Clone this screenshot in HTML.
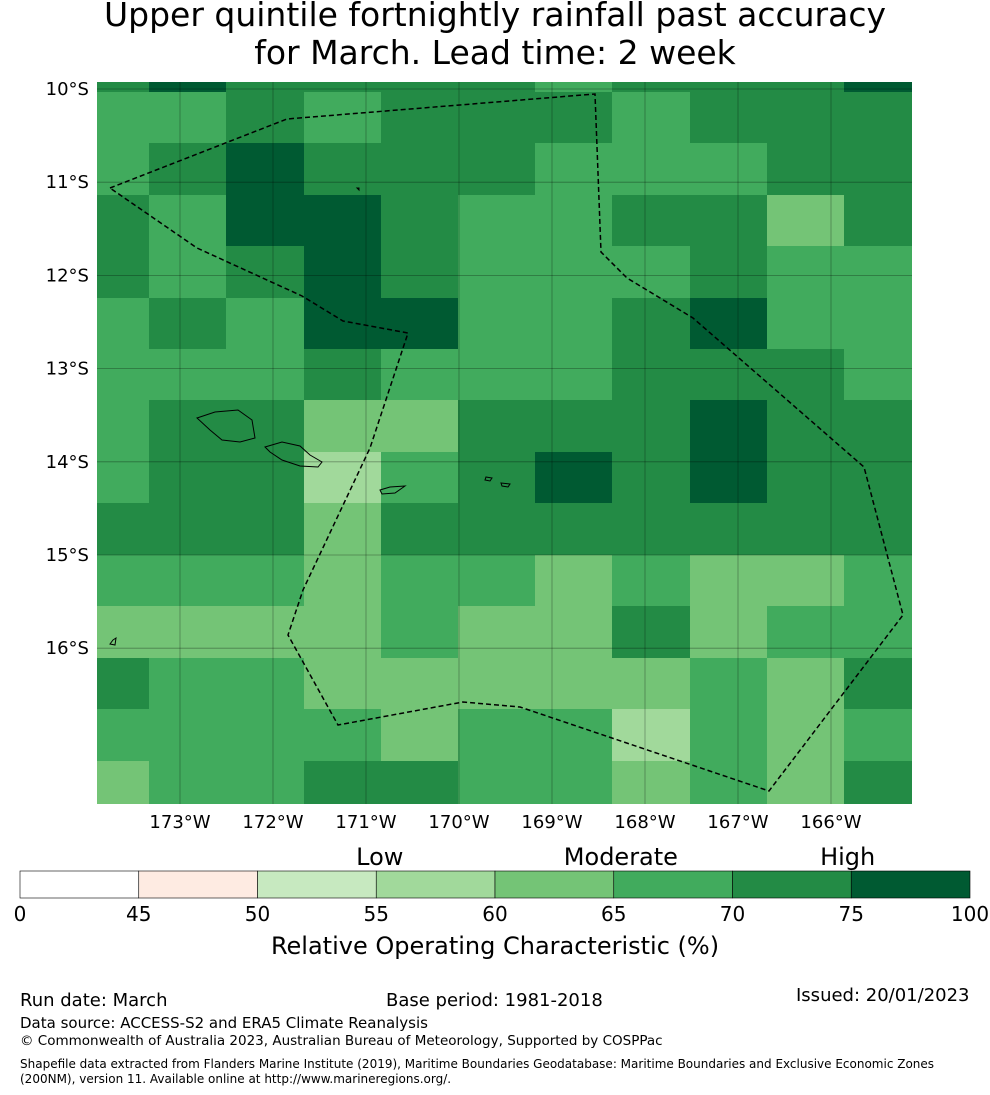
<!DOCTYPE html>
<html><head><meta charset="utf-8"><style>
body{margin:0;background:#fff;font-family:"DejaVu Sans","Liberation Sans",sans-serif;}
#wrap{position:relative;width:990px;height:1095px;overflow:hidden;}
.t{position:absolute;white-space:nowrap;color:#000;}
</style></head><body>
<div id="wrap">
<div class="t" style="left:0;width:990px;text-align:center;top:-4px;font-size:33px;line-height:38px;">Upper quintile fortnightly rainfall past accuracy<br>for March. Lead time: 2 week</div>
<svg id="map" width="990" height="1095" style="position:absolute;left:0;top:0"></svg>
<div class="t" style="left:20px;top:990px;font-size:18px;">Run date: March</div>
<div class="t" style="left:386px;top:990px;font-size:18px;">Base period: 1981-2018</div>
<div class="t" style="left:796px;top:985px;font-size:18px;">Issued: 20/01/2023</div>
<div class="t" style="left:20px;top:1014px;font-size:15px;">Data source: ACCESS-S2 and ERA5 Climate Reanalysis</div>
<div class="t" style="left:20px;top:1033px;font-size:13.5px;">© Commonwealth of Australia 2023, Australian Bureau of Meteorology, Supported by COSPPac</div>
<div class="t" style="left:20px;top:1057px;font-size:12px;line-height:15px;">Shapefile data extracted from Flanders Marine Institute (2019), Maritime Boundaries Geodatabase: Maritime Boundaries and Exclusive Economic Zones<br>(200NM), version 11. Available online at http://www.marineregions.org/.</div>
</div>
<script>
const colEdges=[97,149,226,304,381,458,535,612,690,767,844,912];
const rowEdges=[82,92,143,195,246,298,349,400,452,503,555,606,658,709,761,804];
const cellRows=[
"CDCCCCBCCCD",
"BBCBCCCBCCC",
"BCDCCCBBBCC",
"CBDDCBBCCAC",
"CBCDCBBBCBB",
"BCBDDBBCDBB",
"BBBCBBBCCCB",
"BCCAACCCDCC",
"BCCEBCDCDCC",
"CCCACCCCCCC",
"BBBABBABAAB",
"AAAABAACABB",
"CBBAAAAABAC",
"BBBBABBEBAB",
"ABBCCBBABAC"];
const levelColors={E:"#a1d99b",A:"#74c476",B:"#41ab5d",C:"#238b45",D:"#005a32"};
const lonTicks=[-173,-172,-171,-170,-169,-168,-167,-166];
const latTicks=[-10,-11,-12,-13,-14,-15,-16];
const cbEdges=[0,45,50,55,60,65,70,75,100];
const cbColors=["#ffffff","#feebe2","#c7e9c0","#a1d99b","#74c476","#41ab5d","#238b45","#005a32"];
const cbCats=["Low","Moderate","High"];
const cbCatPos=[3.03,5.06,6.97];
const NS="http://www.w3.org/2000/svg";
const FF='DejaVu Sans, Liberation Sans, sans-serif';
const svg=document.getElementById('map');
function mk(tag,attrs,parent){const e=document.createElementNS(NS,tag);for(const k in attrs)e.setAttribute(k,attrs[k]);(parent||svg).appendChild(e);return e;}
const xLon=lon=>180+(lon+173)*93;
const yLat=lat=>89+(-10-lat)*93.2;
for(let r=0;r<cellRows.length;r++){for(let c=0;c<cellRows[r].length;c++){
 const e=mk('rect',{x:colEdges[c],y:rowEdges[r],width:colEdges[c+1]-colEdges[c],height:rowEdges[r+1]-rowEdges[r],fill:levelColors[cellRows[r][c]]});
 
 
}}
lonTicks.forEach(l=>{const x=xLon(l);
 const g=mk('line',{x1:x,x2:x,y1:82,y2:804,stroke:'rgba(0,0,0,0.35)','stroke-width':0.8});
 
 const t=mk('text',{x:x,y:828,'font-size':18,'text-anchor':'middle','font-family':FF});t.textContent=(-l)+'°W';
 });
latTicks.forEach(l=>{const y=yLat(l);
 const g=mk('line',{x1:97,x2:912,y1:y,y2:y,stroke:'rgba(0,0,0,0.35)','stroke-width':0.8});
 
 const t=mk('text',{x:89,y:y+6,'font-size':18,'text-anchor':'end','font-family':FF});t.textContent=(-l)+'°S';
 });
const eez=mk('polyline',{points:"110,188 287,119 595,94 601,252 627,278 693,318 864,467 903,615 769,791 520,707 463,702 338,725 288,635 303,590 370,448 408,333 343,321 302,296 197,248 110,188",fill:'none',stroke:'#000','stroke-width':1.5,'stroke-dasharray':'5,3'});

["197,418 215,412 238,410 252,420 255,438 240,442 222,440 210,430","265,447 282,442 300,446 310,455 322,462 318,467 300,466 282,460 270,452","380,490 390,487 405,486 395,493 382,494","486,477 492,478 490,481 485,480","501,483 510,484 508,487 502,486","357,188 359,188 359,190","113,640 116,638 115,645 110,644"].forEach(p=>{
 const e=mk('polygon',{points:p,fill:'none',stroke:'#000','stroke-width':1});
 });
for(let i=0;i<cbColors.length;i++){
 const e=mk('rect',{x:20+i*118.75,y:871,width:118.75,height:27,fill:cbColors[i],stroke:'#000','stroke-width':0.6});
 }
cbEdges.forEach((v,i)=>{const t=mk('text',{x:20+i*118.75,y:921,'font-size':20,'text-anchor':'middle','font-family':FF});t.textContent=v;
 });
cbCats.forEach((c,i)=>{const t=mk('text',{x:20+cbCatPos[i]*118.75,y:865,'font-size':24,'text-anchor':'middle','font-family':FF});t.textContent=c;
 });
const ct=mk('text',{x:495,y:954,'font-size':24,'text-anchor':'middle','font-family':FF});ct.textContent='Relative Operating Characteristic (%)';

</script>
</body></html>
